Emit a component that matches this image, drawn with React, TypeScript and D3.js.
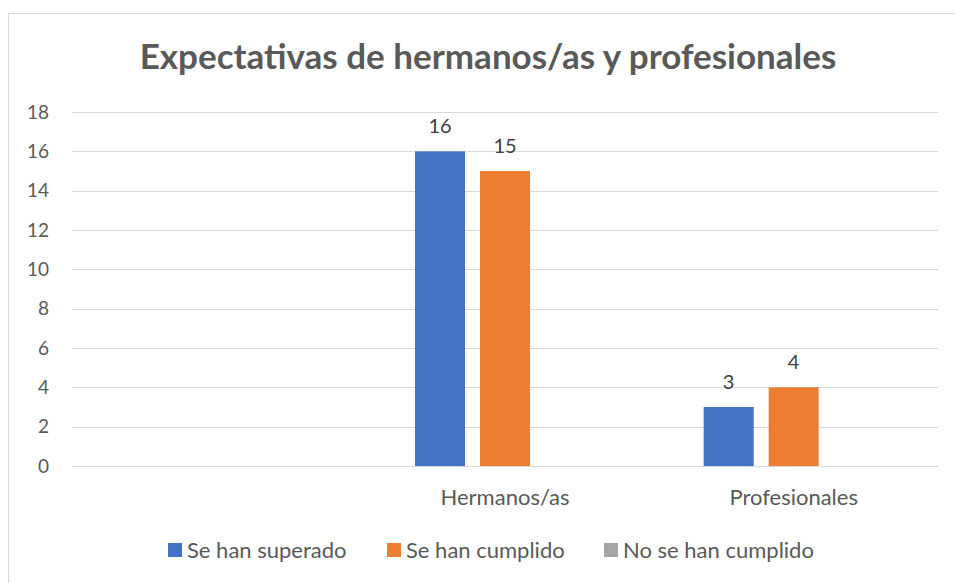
import React, { useRef, useEffect } from 'react'
import * as d3 from 'd3'

const categories = ['', 'Hermanos/as', 'Profesionales']
const seriesNames = ['Se han superado', 'Se han cumplido', 'No se han cumplido']
const seriesColors = ['#4472C4', '#ED7D31', '#A5A5A5']
const superado: (number | null)[] = [null, 16, 3]
const cumplido: (number | null)[] = [null, 15, 4]
const noCumplido: (number | null)[] = [null, null, null]
const yTicks = [0, 2, 4, 6, 8, 10, 12, 14, 16, 18]

const App: React.FC = () => {
  const svgRef = useRef<SVGSVGElement>(null)

  useEffect(() => {
    if (!svgRef.current) return
    const width = 955
    const height = 583
    const font = 'Lato, "Open Sans", sans-serif'

    d3.select(svgRef.current).selectAll('*').remove()
    const svg = d3.select(svgRef.current).attr('width', width).attr('height', height)

    svg.append('rect').attr('width', width).attr('height', height).attr('fill', '#fff')

    // chart frame
    svg.append('rect')
      .attr('x', 8.5).attr('y', 13.5)
      .attr('width', 960).attr('height', 600)
      .attr('fill', 'none').attr('stroke', '#d9d9d9').attr('stroke-width', 1)

    svg.append('text')
      .text('Expectativas de hermanos/as y profesionales')
      .attr('x', 488).attr('y', 69)
      .attr('text-anchor', 'middle')
      .attr('font-family', font)
      .attr('font-size', '35px')
      .attr('font-weight', 'bold')
      .attr('fill', '#595959')

    const x = d3.scaleBand<string>().domain(categories).range([72, 938])
    const y = d3.scaleLinear().domain([0, 18]).range([466, 112])
    const inner = d3.scaleBand<string>().domain(seriesNames).range([0, 180]).paddingInner(15 / 65)

    // gridlines
    svg.append('g').selectAll('line').data(yTicks).enter().append('line')
      .attr('x1', 72).attr('x2', 938)
      .attr('y1', d => Math.round(y(d)) + 0.5).attr('y2', d => Math.round(y(d)) + 0.5)
      .attr('stroke', '#d9d9d9').attr('stroke-width', 1)

    svg.append('g').selectAll('text').data(yTicks).enter().append('text')
      .text(d => d)
      .attr('x', 49).attr('y', d => y(d)).attr('dy', '0.35em')
      .attr('text-anchor', 'end')
      .attr('font-family', font).attr('font-size', '19px').attr('fill', '#595959')

    const seriesValues = [superado, cumplido, noCumplido]
    const bars = seriesNames.flatMap((s, si) =>
      categories.map((c, ci) => ({ s, c, v: seriesValues[si][ci], color: seriesColors[si] }))
    ).filter(d => d.v != null) as { s: string; c: string; v: number; color: string }[]

    const gx = (c: string) => (x(c) || 0) + x.bandwidth() / 2 - 90

    svg.append('g').selectAll('rect').data(bars).enter().append('rect')
      .attr('x', d => gx(d.c) + (inner(d.s) || 0))
      .attr('y', d => y(d.v))
      .attr('width', inner.bandwidth())
      .attr('height', d => y(0) - y(d.v))
      .attr('fill', d => d.color)

    svg.append('g').selectAll('text').data(bars).enter().append('text')
      .text(d => d.v)
      .attr('x', d => gx(d.c) + (inner(d.s) || 0) + inner.bandwidth() / 2)
      .attr('y', d => y(d.v) - 18)
      .attr('text-anchor', 'middle')
      .attr('font-family', font).attr('font-size', '20px').attr('fill', '#404040')

    svg.append('g').selectAll('text').data(categories).enter().append('text')
      .text(d => d)
      .attr('x', d => (x(d) || 0) + x.bandwidth() / 2)
      .attr('y', 505)
      .attr('text-anchor', 'middle')
      .attr('font-family', font).attr('font-size', '22px').attr('fill', '#595959')

    // legend
    const legendX = [168, 387, 604]
    const lg = svg.append('g').selectAll('g').data(seriesNames).enter().append('g')
      .attr('transform', (d, i) => `translate(${legendX[i]}, 543)`)
    lg.append('rect').attr('width', 14).attr('height', 14).attr('fill', (d, i) => seriesColors[i])
    lg.append('text').text(d => d)
      .attr('x', 19).attr('y', 15)
      .attr('font-family', font).attr('font-size', '22px').attr('fill', '#595959')
  }, [])

  return <svg ref={svgRef} style={{ position: 'absolute', left: 0, top: 0 }} />
}

export default App
